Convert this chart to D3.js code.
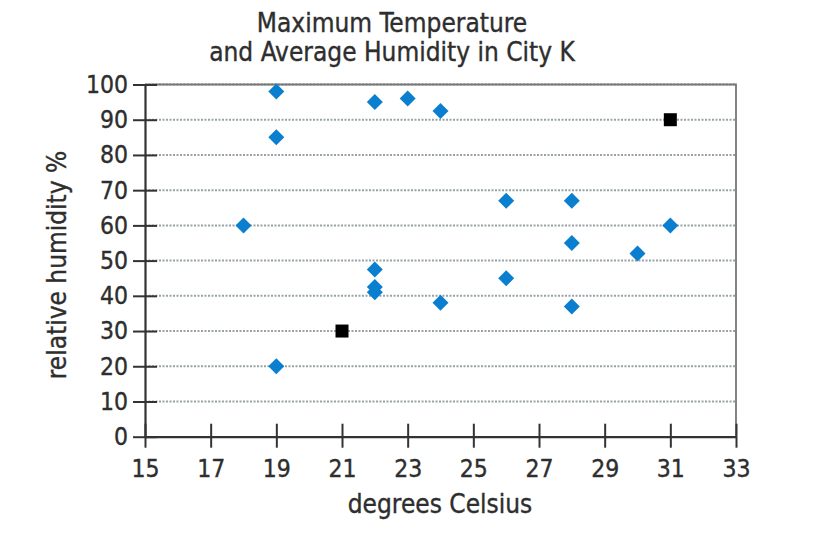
<!DOCTYPE html>
<html>
<head>
<meta charset="utf-8">
<script src="https://cdn.jsdelivr.net/npm/d3@7"></script>
<style>
  html, body { margin: 0; padding: 0; background: #fff; }
  svg { display: block; font-family: "DejaVu Sans Condensed", "DejaVu Sans", sans-serif; }
  text { fill: #2e2e2e; stroke: #2e2e2e; stroke-width: 0.35px; }
</style>
</head>
<body>
<svg id="chart" width="826" height="533"></svg>
<script>
// data
const titleLines = ["Maximum Temperature", "and Average Humidity in City K"];
const xLabel = "degrees Celsius";
const yLabel = "relative humidity %";

const xTicks = [15, 17, 19, 21, 23, 25, 27, 29, 31, 33];
const yTicks = [0, 10, 20, 30, 40, 50, 60, 70, 80, 90, 100];

// blue diamonds
const tempBlue = [18, 19, 19, 19, 22, 22, 22, 22, 23, 24, 24, 26, 26, 28, 28, 28, 30, 31];
const humBlue  = [60, 98, 85, 20, 95, 47.5, 42.5, 41, 96, 92.5, 38, 67, 45, 67, 55, 37, 52, 60];
// black squares
const tempBlack = [21, 31];
const humBlack  = [30, 90];

const svg = d3.select("#chart");

const x = d3.scaleLinear().domain([15, 33]).range([145, 736]);
const y = d3.scaleLinear().domain([0, 100]).range([436.7, 84.5]);

// gridlines
svg.append("g")
  .selectAll("line")
  .data(yTicks.filter(d => d > 0))
  .join("line")
  .attr("x1", x(15)).attr("x2", x(33))
  .attr("y1", d => y(d)).attr("y2", d => y(d))
  .attr("stroke", "#99a2a7")
  .attr("stroke-width", 2)
  .attr("stroke-dasharray", "2,1.5");

// plot border (top / right)
svg.append("path")
  .attr("d", `M${x(15)},${y(100)}H${x(33)}V${y(0)}`)
  .attr("fill", "none")
  .attr("stroke", "#777")
  .attr("stroke-width", 1.8);

// axes
const xAxis = svg.append("g")
  .attr("transform", `translate(0,${y(0)})`)
  .call(d3.axisBottom(x).tickValues(xTicks).tickSize(11).tickSizeOuter(0).tickPadding(12));

const yAxis = svg.append("g")
  .attr("transform", `translate(${x(15)},0)`)
  .call(d3.axisLeft(y).tickValues(yTicks).tickSize(12).tickSizeOuter(0).tickPadding(5));

// ticks cross the axis line
xAxis.selectAll(".tick").append("line").attr("y2", -13).attr("stroke", "currentColor");
yAxis.selectAll(".tick").append("line").attr("x2", 12).attr("stroke", "currentColor");

[xAxis, yAxis].forEach(g => {
  g.attr("color", "#333");
  g.selectAll("path.domain").attr("stroke-width", 2.2);
  g.selectAll(".tick line").attr("stroke-width", 2);
  g.selectAll("text")
    .style("font-size", "24.5px")
    .style("font-family", "'DejaVu Sans Condensed', 'DejaVu Sans', sans-serif");
});

// points
svg.append("g")
  .selectAll("path")
  .data(tempBlue.map((t, i) => [t, humBlue[i]]))
  .join("path")
  .attr("transform", d => `translate(${x(d[0])},${y(d[1])})`)
  .attr("d", "M0,-8L8,0L0,8L-8,0Z")
  .attr("fill", "#0b7fcf");

svg.append("g")
  .selectAll("rect")
  .data(tempBlack.map((t, i) => [t, humBlack[i]]))
  .join("rect")
  .attr("x", d => x(d[0]) - 6.5)
  .attr("y", d => y(d[1]) - 6.5)
  .attr("width", 13).attr("height", 13)
  .attr("fill", "#000");

// title
svg.append("text")
  .attr("text-anchor", "middle")
  .style("font-size", "26px")
  .selectAll("tspan")
  .data(titleLines)
  .join("tspan")
  .attr("x", 392)
  .attr("y", (d, i) => 32 + i * 29)
  .text(d => d);

// axis labels
svg.append("text")
  .attr("x", 440).attr("y", 513)
  .attr("text-anchor", "middle")
  .style("font-size", "26px")
  .text(xLabel);

svg.append("text")
  .attr("transform", "translate(66,265) rotate(-90)")
  .attr("text-anchor", "middle")
  .style("font-size", "26px")
  .text(yLabel);
</script>
</body>
</html>
